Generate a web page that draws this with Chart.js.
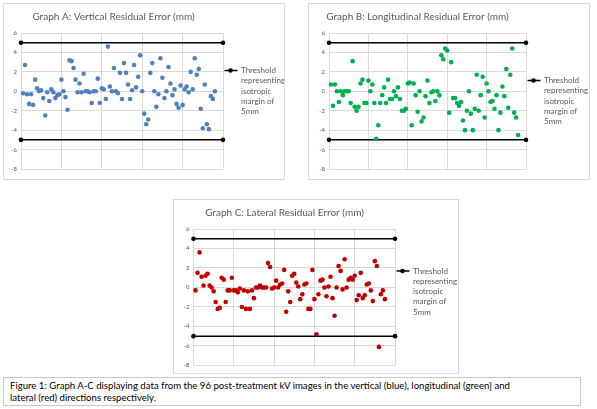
<!DOCTYPE html>
<html lang="en">
<head>
    <meta charset="UTF-8">
    <title>Residual Error</title>
    <script src="https://cdn.jsdelivr.net/npm/chart.js"></script>
    <style>
        body { margin: 0; background: #fff; width: 597px; height: 409px; position: relative; overflow: hidden; font-family: Lato, sans-serif; }
        .box { position: absolute; border: 1px solid #d9d9d9; box-sizing: border-box; background: #fff; }
        .box canvas { display: block; }
        #caption { position: absolute; left: 3px; top: 377px; width: 578px; height: 29px; border: 1px solid #c8c8c8; box-sizing: border-box;
                   font-size: 9.6px; line-height: 12.5px; padding: 1.5px 6px; color: #000; white-space: nowrap; }
    </style>
</head>
<body>

<div class="box" style="left:3px; top:3px; width:282px; height:177px;"><canvas id="chartA" width="280" height="175"></canvas></div>
<div class="box" style="left:308px; top:3px; width:282px; height:177px;"><canvas id="chartB" width="280" height="175"></canvas></div>
<div class="box" style="left:173px; top:199px; width:286px; height:175px;"><canvas id="chartC" width="284" height="173"></canvas></div>

<div id="caption">Figure 1: Graph A-C displaying data from the 96 post-treatment kV images in the vertical (blue), longitudinal (green] and<br>lateral (red) directions respectively.</div>

<script>
// residual error (mm) per image
const verticalError = [
    -0.2, 2.7, -0.3, -1.3, -0.3, -1.4, 1.2, 0.3, 0.0, 0.1,
    -0.7, -2.5, -0.1, -1.0, 0.2, -0.1, -0.7, -0.4, -0.3, 1.2,
    0.0, -0.6, -1.9, 3.2, 3.1, 2.4, 1.2, -0.1, 0.8, -0.1,
    1.8, 0.0, 0.0, -0.1, -1.2, 0.0, 0.0, 1.3, -1.2, 0.3,
    0.2, -0.8, 4.6, 0.5, 0.0, 2.4, 0.0, -0.2, 1.9, -0.8,
    2.9, 1.9, 0.7, -0.8, 0.1, 2.7, 0.4, 1.5, 3.7, 0.0,
    -2.3, -3.4, -2.9, 1.9, 2.9, 0.0, -1.6, -0.3, 3.4, 1.4,
    -0.7, 0.0, 2.5, 0.8, -0.4, 0.2, -1.3, -1.7, 0.6, -1.4,
    0.2, 0.5, -0.1, 2.0, 0.2, 3.4, 1.7, 2.3, -1.8, -3.8,
    0.7, -3.4, -3.9, -0.5, -0.8, 0.0
];
const longitudinalError = [
    0.7, -1.5, 0.7, 0.0, -1.1, 0.0, -0.4, 0.0, 0.0, 0.0,
    -1.2, 3.1, -1.6, -2.0, -1.6, 0.8, 1.2, -1.2, -1.2, 1.1,
    0.0, 0.7, -1.2, -4.9, -3.5, -1.2, -0.4, 0.4, -1.2, 1.2,
    -0.8, -0.8, 0.0, -0.5, 0.4, -0.8, -2.0, -2.0, -1.8, 0.8,
    0.9, -3.5, 0.8, -0.4, -2.1, 0.0, -3.1, -2.7, -0.5, 1.1,
    -1.2, -0.1, 0.0, -1.0, 0.0, -0.4, 3.7, 3.3, 4.4, 4.2,
    -2.2, 3.0, -0.7, -0.7, -1.2, -1.5, -1.1, -3.0, -4.0, -2.0,
    0.0, -2.3, -4.0, -1.8, 1.7, -2.0, -0.4, 1.5, -2.7, 0.8,
    0.0, -1.1, -1.0, -1.8, -0.4, -4.0, -2.2, 0.5, -0.5, 2.3,
    -1.7, 1.7, 4.4, -2.2, -2.7, -4.5
];
const lateralError = [
    -0.3, 1.5, 3.6, 1.1, 0.2, 1.2, 1.4, 0.2, 0.0, -0.4,
    -1.5, -2.2, -2.1, 1.0, 0.8, -1.5, -0.3, -0.3, 1.0, -0.3,
    -0.3, -0.5, -0.1, -2.0, -0.3, -2.2, -0.4, -2.2, -0.3, -1.1,
    0.0, 0.0, 0.2, 0.0, 0.0, 0.0, 2.5, 2.1, -0.1, 0.0,
    0.7, 0.0, 0.3, 0.4, 1.8, -2.5, -0.4, -1.5, 1.2, 1.4,
    0.5, 0.1, -1.2, -0.7, 0.3, 0.4, -2.2, -2.2, 1.8, -1.2,
    -4.8, -0.7, 0.7, 0.8, 0.0, -0.9, 0.1, 1.1, -1.1, -2.9,
    0.0, 2.2, 1.7, -0.2, 2.9, 0.0, 0.8, 1.0, 0.8, 1.2,
    -1.3, -0.8, 1.5, -1.1, -0.8, 0.3, 0.4, -0.3, -1.4, 2.7,
    2.2, -6.1, -0.7, -0.3, -1.2
];

// threshold lines (+/- 5mm) drawn across the whole x range
const thresholdX = [0, 100];
const thresholdLevels = [5, -5];
const legendLines = ['Threshold', 'representing', 'isotropic', 'margin of', '5mm'];

// axis ranges
const xRange = [0, 100, 20];
const yRange = [-8, 6, 2];

const GREY = '#595959';

// legend on the right, drawn by hand so the text can wrap like Excel does
const sideLegend = {
    id: 'sideLegend',
    afterDraw(chart, args, opts) {
        const ctx = chart.ctx;
        const area = chart.chartArea;
        const x = area.right;
        const y = area.top + opts.top;
        ctx.save();
        ctx.strokeStyle = '#000';
        ctx.lineWidth = 1.5;
        ctx.beginPath();
        ctx.moveTo(x + 1.5, y);
        ctx.lineTo(x + 14.5, y);
        ctx.stroke();
        ctx.fillStyle = '#000';
        ctx.beginPath();
        ctx.arc(x + 7.5, y, 2.3, 0, Math.PI * 2);
        ctx.fill();
        ctx.font = '8px Lato';
        ctx.fillStyle = GREY;
        ctx.textBaseline = 'middle';
        legendLines.forEach((line, i) => ctx.fillText(line, x + 18, y + i * 10.3));
        ctx.restore();
    }
};

function residualChart(id, title, values, colour, layout) {
    const points = values.map((v, i) => ({ x: i + 1, y: v }));
    const thresholds = thresholdLevels.map(level => ({
        type: 'line',
        label: legendLines.join(' '),
        data: thresholdX.map(x => ({ x: x, y: level })),
        borderColor: '#000',
        borderWidth: 1.5,
        pointRadius: 2.3,
        pointBackgroundColor: '#000',
        pointBorderWidth: 0,
        clip: false
    }));

    return new Chart(document.getElementById(id), {
        type: 'scatter',
        data: {
            datasets: [{
                label: title,
                data: points,
                backgroundColor: colour,
                borderWidth: 0,
                pointRadius: 2.3,
                clip: false
            }].concat(thresholds)
        },
        options: {
            responsive: false,
            animation: false,
            layout: { padding: { left: 0, right: layout.right, bottom: layout.bottom, top: 0 } },
            scales: {
                x: {
                    type: 'linear',
                    min: xRange[0], max: xRange[1],
                    ticks: { stepSize: xRange[2], display: false },
                    grid: { color: '#d9d9d9', drawTicks: false },
                    border: { display: false },
                    afterFit: s => { s.height = 0; }
                },
                y: {
                    min: yRange[0], max: yRange[1],
                    ticks: { stepSize: yRange[2], color: GREY, font: { family: 'Lato', size: 6 }, padding: 4 },
                    grid: { color: '#d9d9d9', drawTicks: false },
                    border: { display: false },
                    afterFit: s => { s.width = layout.left; }
                }
            },
            plugins: {
                legend: { display: false },
                tooltip: { enabled: false },
                title: {
                    display: true,
                    text: title,
                    color: GREY,
                    font: { family: 'Lato', size: 10, weight: 'normal' },
                    padding: { top: 7, bottom: 10 }
                },
                sideLegend: { top: layout.legendTop }
            }
        },
        plugins: [sideLegend]
    });
}

residualChart('chartA', 'Graph A: Vertical Residual Error (mm)', verticalError, '#4f81bd',
    { left: 17, right: 61, bottom: 10, legendTop: 37.5 });
residualChart('chartB', 'Graph B: Longitudinal Residual Error (mm)', longitudinalError, '#00b050',
    { left: 20, right: 63, bottom: 10, legendTop: 47.5 });
residualChart('chartC', 'Graph C: Lateral Residual Error (mm)', lateralError, '#c00000',
    { left: 19.5, right: 63, bottom: 7, legendTop: 42 });
</script>
</body>
</html>
